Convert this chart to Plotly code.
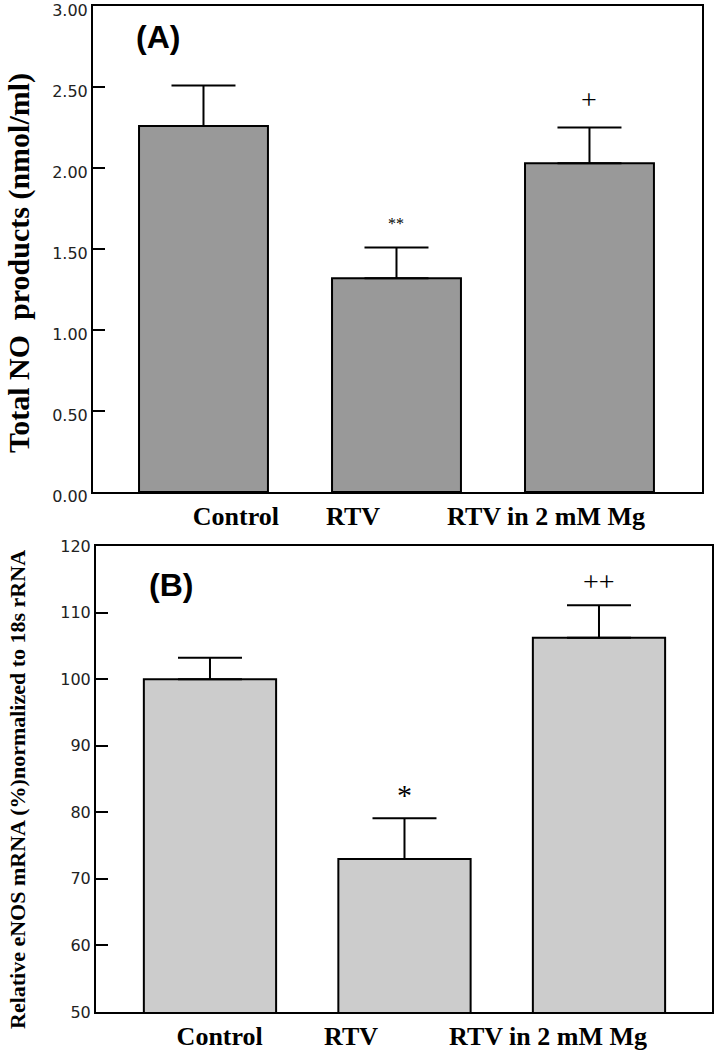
import plotly.graph_objects as go

# ---------------- data ----------------
categories = ["Control", "RTV", "RTV in 2 mM Mg"]

no_means = [2.26, 1.32, 2.03]
no_errs = [0.25, 0.19, 0.22]
no_sig = ["", "**", "+"]

enos_means = [100.0, 73.0, 106.2]
enos_errs = [3.2, 6.1, 4.9]
enos_sig = ["", "*", "++"]

no_ticks = [0.0, 0.5, 1.0, 1.5, 2.0, 2.5, 3.0]
enos_ticks = [50, 60, 70, 80, 90, 100, 110, 120]

# ---------------- styling ----------------
pos = [1, 2, 3]
label_off_a = [0.168, -0.225, -0.225]
label_off_b = [0.05, -0.275, -0.262]
serif = "Liberation Serif, Times New Roman, serif"
sans = "DejaVu Sans, Arial, sans-serif"

fig = go.Figure()

fig.add_trace(go.Bar(
    x=pos, y=no_means, width=0.668,
    marker=dict(color="#999999", line=dict(color="black", width=2)),
    error_y=dict(type="data", array=no_errs, arrayminus=[0]*3, symmetric=False,
                 color="black", thickness=2, width=32),
    xaxis="x", yaxis="y", showlegend=False, hoverinfo="skip",
))
fig.add_trace(go.Bar(
    x=pos, y=enos_means, width=0.68,
    marker=dict(color="#cccccc", line=dict(color="black", width=2)),
    error_y=dict(type="data", array=enos_errs, arrayminus=[0]*3, symmetric=False,
                 color="black", thickness=2, width=32),
    xaxis="x2", yaxis="y2", showlegend=False, hoverinfo="skip",
))

common_axis = dict(showline=True, linecolor="black", linewidth=2, mirror=True,
                   showgrid=False, zeroline=False, automargin=False,
                   ticklabeloverflow="allow")

fig.update_layout(
    width=714, height=1050,
    margin=dict(l=0, r=0, t=0, b=0, autoexpand=False),
    paper_bgcolor="white", plot_bgcolor="white",
    xaxis=dict(domain=[93/714, 702/714], range=[0.4275, 3.583], anchor="y",
               tickmode="array", tickvals=[p + o for p, o in zip(pos, label_off_a)],
               ticktext=categories, ticks="",
               tickfont=dict(family=serif, size=26, color="black", weight="bold"),
               **common_axis),
    yaxis=dict(domain=[1 - 492/1050, 1 - 6/1050], range=[0, 3], anchor="x",
               tickmode="array", tickvals=no_ticks,
               ticktext=[f"{v:.2f}" for v in no_ticks],
               ticks="inside", ticklen=12, tickwidth=2, tickcolor="black",
               ticklabelshift=4,
               tickfont=dict(family=sans, size=16, color="#222"),
               **common_axis),
    xaxis2=dict(domain=[96/714, 712/714], range=[0.414, 3.581], anchor="y2",
                tickmode="array", tickvals=[p + o for p, o in zip(pos, label_off_b)],
                ticktext=categories, ticks="",
                tickfont=dict(family=serif, size=26, color="black", weight="bold"),
                **common_axis),
    yaxis2=dict(domain=[1 - 1012/1050, 1 - 546/1050], range=[50, 120], anchor="x2",
                tickmode="array", tickvals=enos_ticks,
                ticktext=[str(v) for v in enos_ticks],
                ticks="inside", ticklen=12, tickwidth=2, tickcolor="black",
                tickfont=dict(family=sans, size=16, color="#222"),
                **common_axis),
)

annotations = []
# significance marks
for p, m, e, s in zip(pos, no_means, no_errs, no_sig):
    if s:
        annotations.append(dict(
            x=p, y=m + e, xref="x", yref="y", text=s, showarrow=False,
            xanchor="center", yanchor="middle", yshift=24 if s == "**" else 28,
            font=dict(family=serif, size=16 if s == "**" else 28, color="black")))
for p, m, e, s in zip(pos, enos_means, enos_errs, enos_sig):
    if s:
        annotations.append(dict(
            x=p, y=m + e, xref="x2", yref="y2", text=s, showarrow=False,
            xanchor="center", yanchor="middle", yshift=24,
            font=dict(family=serif, size=28 if s == "++" else 30, color="black")))

# panel labels
annotations.append(dict(x=158/714, y=1 - 37/1050, xref="paper", yref="paper",
                        text="<b>(A)</b>", showarrow=False,
                        xanchor="center", yanchor="middle",
                        font=dict(family="Liberation Sans, Arial, sans-serif", size=32, color="black")))
annotations.append(dict(x=171/714, y=1 - 585/1050, xref="paper", yref="paper",
                        text="<b>(B)</b>", showarrow=False,
                        xanchor="center", yanchor="middle",
                        font=dict(family="Liberation Sans, Arial, sans-serif", size=32, color="black")))

# axis titles
annotations.append(dict(x=19/714, y=1 - 263/1050, xref="paper", yref="paper",
                        text="<b>Total NO  products (nmol/ml)</b>", textangle=-90,
                        showarrow=False, xanchor="center", yanchor="middle",
                        font=dict(family=serif, size=30, color="black")))
annotations.append(dict(x=17/714, y=1 - 790/1050, xref="paper", yref="paper",
                        text="<b>Relative eNOS mRNA (%)normalized to 18s rRNA</b>",
                        textangle=-90, showarrow=False, xanchor="center", yanchor="middle",
                        font=dict(family=serif, size=22, color="black")))

fig.update_layout(annotations=annotations)

fig.write_html("out.html", config={"displayModeBar": False},
               post_script="document.body.style.margin='0px';")
